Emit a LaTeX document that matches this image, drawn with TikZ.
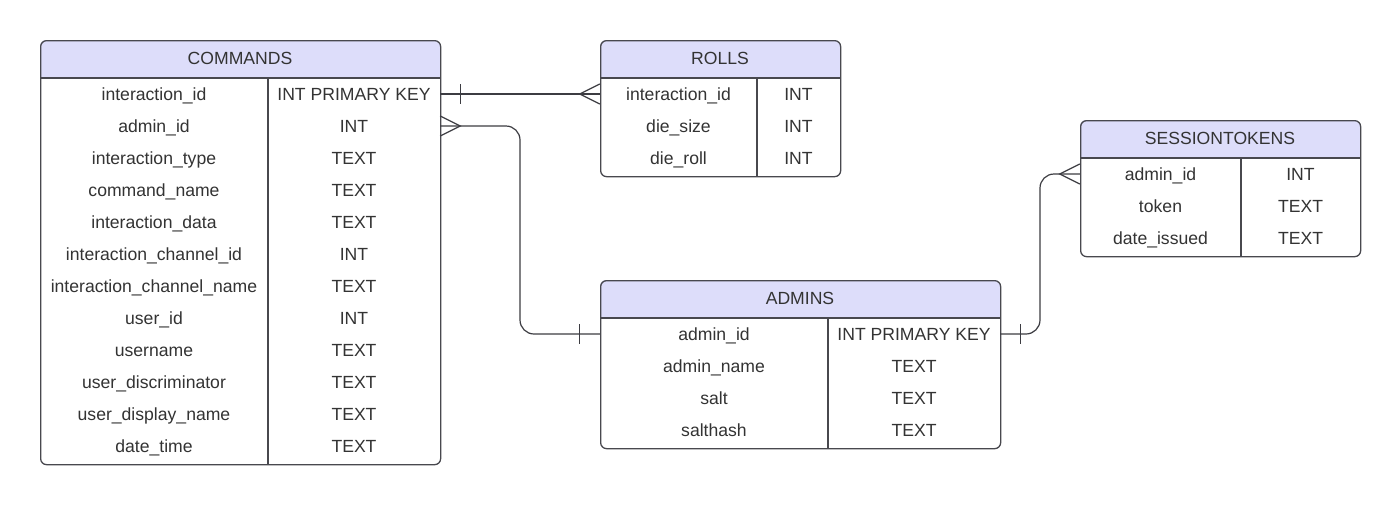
\documentclass[tikz,border=0pt]{standalone}
\usepackage{fontspec}
\setmainfont{Liberation Sans}
\usetikzlibrary{calc}
\definecolor{headcol}{RGB}{221,221,250}
\definecolor{bordcol}{RGB}{72,72,78}
\definecolor{txtcol}{RGB}{51,51,51}
\definecolor{linecol}{RGB}{60,60,66}
\tikzset{
  tablebox/.style={draw=bordcol, line width=1.3pt, rounded corners=6pt, inner sep=0pt},
  tableline/.style={draw=bordcol, line width=1.3pt},
  rowbox/.style={inner sep=0pt, minimum height=32pt},
  titletext/.style={text=txtcol, font=\fontsize{17.6}{20}\selectfont, inner sep=0pt, text height=12.6pt, text depth=0pt},
  celltext/.style={text=txtcol, font=\fontsize{17.6}{20}\selectfont, inner sep=0pt, text height=12.6pt, text depth=0pt},
  conn/.style={draw=linecol, line width=1.2pt}
}
\newcommand{\ertable}[8]{%
  \pgfmathsetmacro{\tabh}{40+32*#6}
  \fill[headcol] (#2,#3+38) {[rounded corners=6pt] -- (#2,#3) -- (#2+#4,#3)} -- (#2+#4,#3+38) -- cycle;
  \node[tablebox, minimum width=#4pt, minimum height=\tabh pt, anchor=north west] (#1) at (#2,#3) {};
  \node[titletext] (#1-t) at (#2+#4/2,#3+18) {#7};
  \draw[tableline] (#2,#3+38) -- (#2+#4,#3+38);
  \draw[tableline] (#2+#5,#3+38) -- (#2+#5,#3+\tabh);
  \foreach [count=\i] \a/\b in {#8} {
    \node[rowbox, minimum width=#4pt] (#1-\i) at (#2+#4/2,#3+38+32*\i-16) {};
    \node[celltext] (#1-\i a) at (#2+#5/2,#3+38+32*\i-16) {\a};
    \node[celltext] (#1-\i b) at (#2+#5/2+#4/2,#3+38+32*\i-16) {\b};
  }
}
\newcommand{\crowfoot}[2]{\draw[conn] ($(#1)+(0,-10)$) -- ($(#1)+(#2,0)$) -- ($(#1)+(0,10)$);}
\newcommand{\onebar}[2]{\draw[conn] ($(#1)+(#2,-10)$) -- ($(#1)+(#2,10)$);}
\begin{document}
\begin{tikzpicture}[x=1pt,y=-1pt]
\useasboundingbox (0,0) rectangle (1400,504);
\fill[white] (0,0) rectangle (1400,504);
\ertable{cmd}{40}{40}{400}{228}{12}{COMMANDS}{%
  interaction\_id/INT PRIMARY KEY,
  admin\_id/INT,
  interaction\_type/TEXT,
  command\_name/TEXT,
  interaction\_data/TEXT,
  interaction\_channel\_id/INT,
  interaction\_channel\_name/TEXT,
  user\_id/INT,
  username/TEXT,
  user\_discriminator/TEXT,
  user\_display\_name/TEXT,
  date\_time/TEXT}
\ertable{roll}{600}{40}{240}{157}{3}{ROLLS}{%
  interaction\_id/INT,
  die\_size/INT,
  die\_roll/INT}
\ertable{ses}{1080}{120}{280}{161}{3}{SESSIONTOKENS}{%
  admin\_id/INT,
  token/TEXT,
  date\_issued/TEXT}
\ertable{adm}{600}{280}{400}{228}{4}{ADMINS}{%
  admin\_id/INT PRIMARY KEY,
  admin\_name/TEXT,
  salt/TEXT,
  salthash/TEXT}
% COMMANDS -- ROLLS
\draw[conn] (cmd-1.east) -- (roll-1.west);
\onebar{cmd-1.east}{20}
\crowfoot{roll-1.west}{-20}
% COMMANDS -- ADMINS
\draw[conn, rounded corners=14pt] (cmd-2.east) -| ($(cmd-2.east)!0.5!(adm-1.west)$) |- (adm-1.west);
\crowfoot{cmd-2.east}{20}
\onebar{adm-1.west}{-20}
% ADMINS -- SESSIONTOKENS
\draw[conn, rounded corners=14pt] (adm-1.east) -| ($(adm-1.east)!0.5!(ses-1.west)$) |- (ses-1.west);
\onebar{adm-1.east}{20}
\crowfoot{ses-1.west}{-20}
\end{tikzpicture}
\end{document}
